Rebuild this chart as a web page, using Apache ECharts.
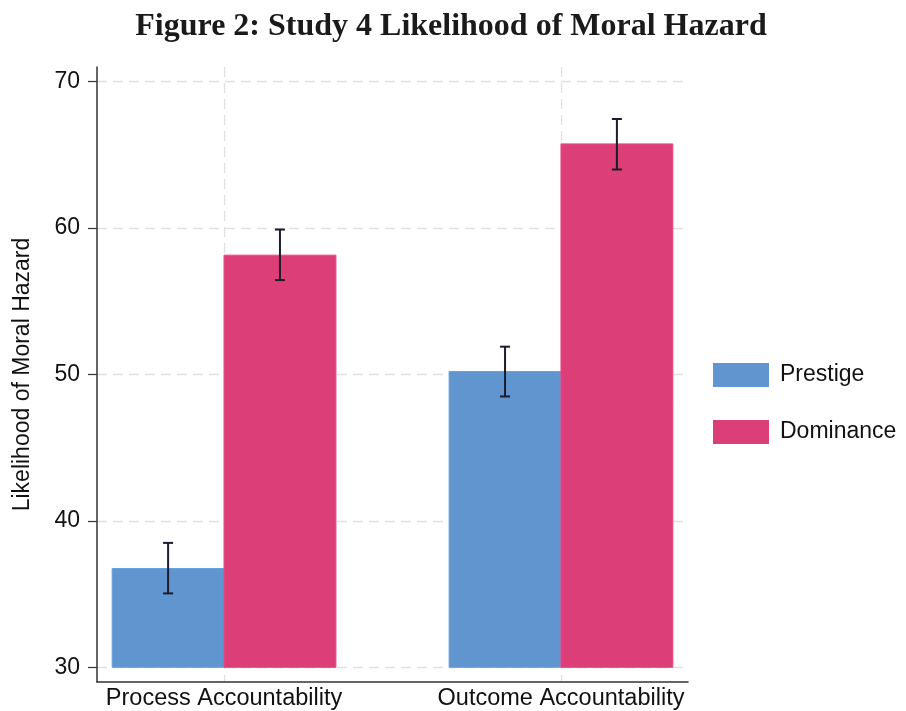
<!DOCTYPE html>
<html>
<head>
<meta charset="utf-8">
<script src="https://cdn.jsdelivr.net/npm/echarts@6/dist/echarts.min.js"></script>
<style>
  html, body { margin: 0; padding: 0; background: #fff; }
  #chart { width: 906px; height: 711px; }
</style>
</head>
<body>
<div id="chart"></div>
<script>
// groups on the x axis (positions 1 and 2)
const categories = ["Process Accountability", "Outcome Accountability"];
const catPos = [1, 2];

// means and 95% CI
const prestige = [36.75, 50.2];
const prestigeLo = [35.05, 48.5];
const prestigeHi = [38.5, 51.9];
const dominance = [58.15, 65.75];
const dominanceLo = [56.45, 64.0];
const dominanceHi = [59.9, 67.45];

const yTicks = [30, 40, 50, 60, 70];

const blue = "#6095d0";
const pink = "#dc3f77";
const barW = 0.332; // in x units
const baseY = 30;

const chart = echarts.init(document.getElementById("chart"));

// bar drawn from baseY up to the value, left (-1) or right (+1) of the group center
function barRenderer(vals, side, color) {
  return function (params, api) {
    const i = params.dataIndex;
    const x0 = side < 0 ? catPos[i] - barW : catPos[i];
    const p1 = api.coord([x0, vals[i]]);
    const p2 = api.coord([x0 + barW, baseY]);
    return {
      type: "rect",
      shape: { x: p1[0], y: p1[1], width: p2[0] - p1[0], height: p2[1] - p1[1] },
      style: { fill: color, stroke: echarts.color.lift(color, -0.08), lineWidth: 1 },
    };
  };
}

function errRenderer(lo, hi, side) {
  return function (params, api) {
    const i = params.dataIndex;
    const xc = catPos[i] + side * barW / 2;
    const top = api.coord([xc, hi[i]]);
    const bot = api.coord([xc, lo[i]]);
    const cap = 5;
    const st = { stroke: "#1c1c2c", lineWidth: 2 };
    return {
      type: "group",
      children: [
        { type: "line", shape: { x1: top[0], y1: top[1], x2: bot[0], y2: bot[1] }, style: st },
        { type: "line", shape: { x1: top[0] - cap, y1: top[1], x2: top[0] + cap, y2: top[1] }, style: st },
        { type: "line", shape: { x1: bot[0] - cap, y1: bot[1], x2: bot[0] + cap, y2: bot[1] }, style: st },
      ],
    };
  };
}

const gridLine = { show: true, lineStyle: { color: "#e0e0e0", type: [10, 6], width: 1.3 } };

const option = {
  backgroundColor: "#fff",
  animation: false,
  title: {
    text: "Figure 2: Study 4 Likelihood of Moral Hazard",
    left: 446,
    textAlign: "center",
    top: 6,
    textStyle: { fontFamily: "Liberation Serif", fontWeight: "bold", fontSize: 32, color: "#1a1a1a" },
  },
  legend: {
    data: ["Prestige", "Dominance"],
    orient: "vertical",
    left: 708,
    top: 358,
    itemWidth: 56,
    itemHeight: 24,
    itemGap: 33,
    icon: "rect",
    textStyle: { fontFamily: "Liberation Sans", fontSize: 23, color: "#111", padding: [0, 0, 0, 6] },
  },
  grid: { left: 97, right: 218, top: 67, bottom: 29 },
  xAxis: {
    type: "value",
    min: 0.623,
    max: 2.377,
    axisLine: { show: true, onZero: false, lineStyle: { color: "#333", width: 1.5 } },
    axisTick: { show: false, customValues: catPos },
    axisLabel: {
      customValues: catPos,
      formatter: (v) => categories[catPos.indexOf(v)] || "",
      fontFamily: "Liberation Sans",
      fontSize: 23.5,
      color: "#111",
      margin: 5,
    },
    splitLine: gridLine,
  },
  yAxis: {
    type: "value",
    min: 29,
    max: 71,
    name: "Likelihood of Moral Hazard",
    nameLocation: "middle",
    nameGap: 63,
    nameTextStyle: { fontFamily: "Liberation Sans", fontSize: 23, color: "#111" },
    axisLine: { show: true, lineStyle: { color: "#333", width: 1.5 } },
    axisTick: { show: true, length: 9, customValues: yTicks, lineStyle: { color: "#333", width: 1.2 } },
    axisLabel: {
      customValues: yTicks,
      fontFamily: "Liberation Sans",
      fontSize: 23,
      color: "#111",
      margin: 17,
    },
    splitLine: gridLine,
  },
  series: [
    {
      name: "Prestige",
      type: "custom",
      itemStyle: { color: blue },
      renderItem: barRenderer(prestige, -1, blue),
      data: prestige.map((v, i) => [catPos[i], v]),
      z: 2,
    },
    {
      name: "Dominance",
      type: "custom",
      itemStyle: { color: pink },
      renderItem: barRenderer(dominance, 1, pink),
      data: dominance.map((v, i) => [catPos[i], v]),
      z: 2,
    },
    {
      name: "Prestige CI",
      type: "custom",
      renderItem: errRenderer(prestigeLo, prestigeHi, -1),
      data: prestige.map((v, i) => [catPos[i], prestigeHi[i]]),
      z: 3,
    },
    {
      name: "Dominance CI",
      type: "custom",
      renderItem: errRenderer(dominanceLo, dominanceHi, 1),
      data: dominance.map((v, i) => [catPos[i], dominanceHi[i]]),
      z: 3,
    },
  ],
};

chart.setOption(option);
</script>
</body>
</html>
